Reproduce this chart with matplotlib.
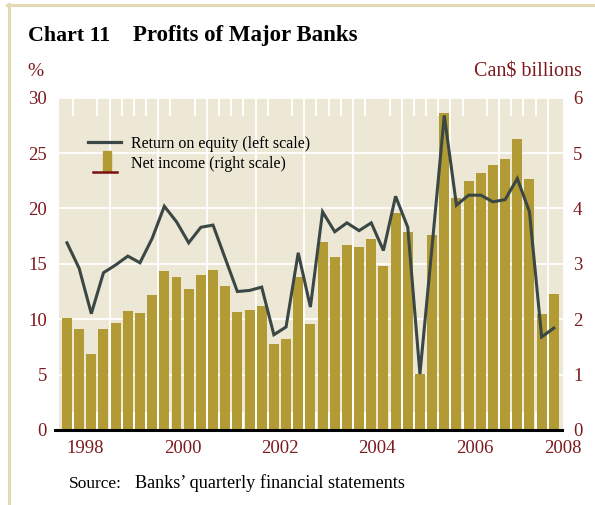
import matplotlib
matplotlib.use("Agg")
import matplotlib.pyplot as plt
from matplotlib.lines import Line2D
from matplotlib.patches import Rectangle
import numpy as np

# ---------------- data ----------------
quarters = [f"{y}Q{q}" for y in range(1998, 2008) for q in range(1, 5)] + ["2008Q1"]
net_income = [2.02, 1.82, 1.37, 1.82, 1.93, 2.15, 2.11, 2.44, 2.87, 2.76,
              2.55, 2.80, 2.89, 2.60, 2.13, 2.17, 2.24, 1.55, 1.64, 2.77,
              1.91, 3.39, 3.12, 3.34, 3.30, 3.45, 2.96, 3.92, 3.57, 1.01,
              3.52, 5.72, 4.18, 4.49, 4.64, 4.78, 4.89, 5.25, 4.53, 2.09, 2.45]
roe = [16.9, 14.6, 10.5, 14.2, 14.9, 15.7, 15.1, 17.3, 20.2, 18.8,
       16.9, 18.3, 18.5, 15.5, 12.5, 12.6, 12.9, 8.6, 9.3, 16.0,
       11.1, 19.7, 17.9, 18.7, 18.0, 18.7, 16.2, 21.1, 18.3, 5.05,
       16.6, 28.4, 20.3, 21.2, 21.2, 20.6, 20.8, 22.7, 19.7, 8.4, 9.2]
year_labels = ["1998", "2000", "2002", "2004", "2006", "2008"]
left_ticks = [0, 5, 10, 15, 20, 25, 30]
right_ticks = [0, 1, 2, 3, 4, 5, 6]

# ---------------- style ----------------
W, H = 595, 505
BG = "#EDE8D6"
BAR = "#B29A35"
LINE = "#3A4745"
RED = "#7D1A1D"
FRAME = "#E3D9B4"
SERIF = ["Liberation Serif", "DejaVu Serif"]

plt.rcParams["font.family"] = SERIF

fig = plt.figure(figsize=(W / 100, H / 100), dpi=100)
fig.patch.set_facecolor("white")

def fx(px):
    return px / W

def fy(py):
    return 1 - py / H

# plot area in pixels
L, R, T, B = 59.3, 562.7, 97.7, 430.0
ax = fig.add_axes([fx(L), fy(B), fx(R) - fx(L), fy(T) - fy(B)])
ax.set_facecolor(BG)

x = np.arange(len(quarters))
ax.set_xlim(-0.63, 40.73)
ax.set_ylim(0, 6)

# gridlines (behind bars)
ax.set_axisbelow(True)
ax.set_yticks(right_ticks)
ax.grid(axis="y", color="white", lw=1.3)
for xb in np.arange(3.5, len(quarters) - 1, 4):
    ax.axvline(xb, color="white", lw=1.3, zorder=0.5)

ax.bar(x, net_income, width=0.82, color=BAR, zorder=1)

# x ticks: year labels (major), quarter boundaries (minor white ticks)
xmax = ax.get_xlim()[1]
year_pos = [min((int(y) - 1998) * 4 + 1.5, xmax) for y in year_labels]
ax.set_xticks(year_pos)
ax.set_xticklabels(year_labels)
ax.set_xticks(np.arange(0.5, len(quarters) - 1, 1), minor=True)
ax.tick_params(axis="x", which="major", length=0, pad=7.5, labelsize=13.5,
               labelcolor=RED)
ax.tick_params(axis="x", which="minor", direction="in", length=13, width=1.4,
               color="white", top=True, bottom=True)
for s in ax.spines.values():
    s.set_visible(False)

# twin axis for the ROE line (left scale)
ax2 = ax.twinx()
ax2.set_ylim(0, 30)
ax2.plot(x, roe, color=LINE, lw=2.2, solid_joinstyle="miter", zorder=3)
for s in ax2.spines.values():
    s.set_visible(False)
ax2.yaxis.tick_left()
ax.yaxis.tick_right()
ax2.set_yticks(left_ticks)
ax2.tick_params(axis="y", length=0, pad=8.9, labelsize=13.5, labelcolor=RED)
ax.tick_params(axis="y", length=0, pad=7.4, labelsize=13.5, labelcolor=RED)

# black baseline extending slightly left of the plot area
ax2.axhline(0, xmin=-(L - 55) / (R - L), xmax=(561.7 - L) / (R - L),
            color="black", lw=2.2, clip_on=False, zorder=5)

renderer = fig.canvas.get_renderer()

def fit(t, target_w):
    w = t.get_window_extent(renderer).width
    t.set_fontsize(t.get_fontsize() * target_w / w)
    return t

# title
t1 = fig.text(fx(28), fy(40.7), "Chart 11", fontsize=14.5, fontweight="bold",
              va="baseline", ha="left", color="black")
fit(t1, 82)
t2 = fig.text(fx(133.3), fy(40.7), "Profits of Major Banks", fontsize=14.5,
              fontweight="bold", va="baseline", ha="left", color="black")
fit(t2, 224.7)

# axis unit labels
fig.text(fx(27.7), fy(76.5), "%", fontsize=14, color=RED, va="baseline", ha="left")
fig.text(fx(582), fy(76.0), "Can$ billions", fontsize=14.5, color=RED,
         va="baseline", ha="right")

# legend (manual)
fig.add_artist(Line2D([fx(88.3), fx(121)], [fy(141.7), fy(141.7)], color=LINE, lw=2.3))
fig.add_artist(Rectangle((fx(103.3), fy(170.5)), fx(110.7) - fx(103.3),
                         fy(151) - fy(170.5), color=BAR, transform=fig.transFigure))
fig.add_artist(Line2D([fx(93.3), fx(116.7)], [fy(171.7), fy(171.7)], color="#7A1010", lw=1.8))
l1 = fig.text(fx(131), fy(141.7), "Return on equity (left scale)", fontsize=11.5,
              va="center_baseline", ha="left", color="black")
fit(l1, 179)
l2 = fig.text(fx(131), fy(161.7), "Net income (right scale)", fontsize=l1.get_fontsize(),
              va="center_baseline", ha="left", color="black")

# source
s1 = fig.text(fx(68.5), fy(487.5), "Source:", fontsize=13, va="baseline", ha="left",
              color="black")
fit(s1, 53)
s2 = fig.text(fx(135), fy(487.5), "Banks\u2019 quarterly financial statements",
              fontsize=13, va="baseline", ha="left", color="black")
fit(s2, 271)

# frame lines (top and left)
fig.add_artist(Line2D([fx(7), fx(595)], [fy(5), fy(5)], color=FRAME, lw=2.2))
fig.add_artist(Line2D([fx(8.7), fx(8.7)], [fy(4), fy(505)], color=FRAME, lw=2.2))

fig.savefig("out.png", dpi=100, facecolor="white")
